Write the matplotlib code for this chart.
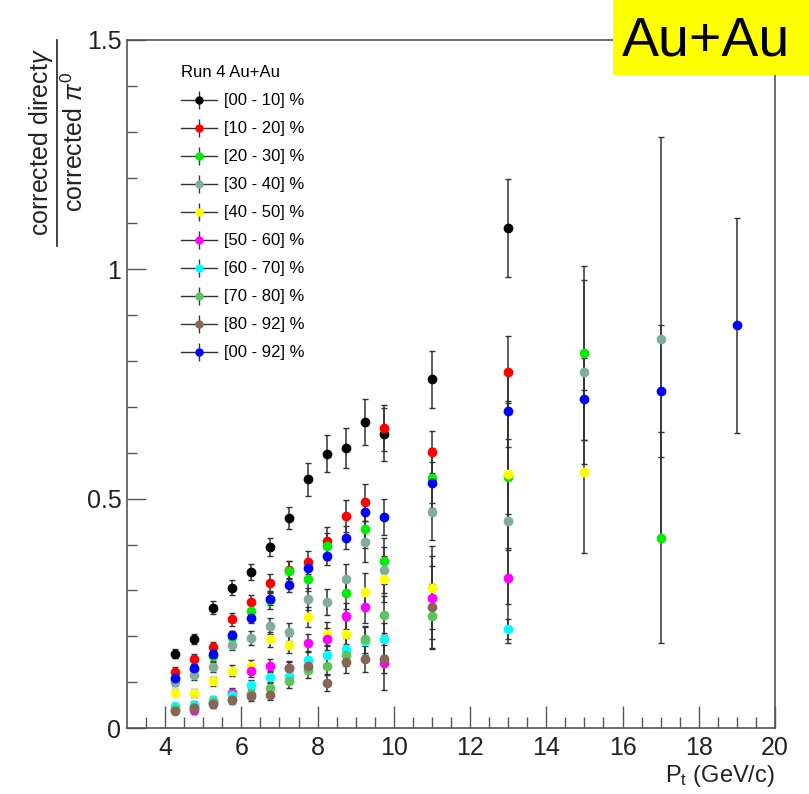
import numpy as np
import matplotlib
matplotlib.use("Agg")
import matplotlib.pyplot as plt
from matplotlib.lines import Line2D
from matplotlib.patches import Rectangle

plt.rcParams['font.family'] = ['Liberation Sans', 'DejaVu Sans']
plt.rcParams['mathtext.fontset'] = 'custom'
plt.rcParams['mathtext.rm'] = 'Liberation Sans'
plt.rcParams['mathtext.it'] = 'Liberation Sans:italic'

nan = np.nan

# pt bin centres (GeV/c)
pt = [4.25, 4.75, 5.25, 5.75, 6.25, 6.75, 7.25, 7.75, 8.25, 8.75, 9.25, 9.75, 11, 13, 15, 17, 19]

labels = ['[00 - 10] %', '[10 - 20] %', '[20 - 30] %', '[30 - 40] %', '[40 - 50] %',
          '[50 - 60] %', '[60 - 70] %', '[70 - 80] %', '[80 - 92] %', '[00 - 92] %']
colors = ['#000000', '#ff0000', '#00ee00', '#80ad9c', '#ffff00',
          '#ff00ff', '#00ffff', '#5cc45a', '#876657', '#0000ff']

c0010 = [0.162, 0.195, 0.262, 0.306, 0.340, 0.395, 0.457, 0.542, 0.598, 0.611, 0.667, 0.640, 0.760, 1.091]
c1020 = [0.122, 0.151, 0.176, 0.237, 0.274, 0.317, 0.345, 0.361, 0.408, 0.463, 0.492, 0.654, 0.601, 0.776]
c2030 = [0.105, 0.128, 0.158, 0.198, 0.255, 0.278, 0.342, 0.324, 0.396, 0.295, 0.433, 0.365, 0.545, 0.548, 0.818, 0.415]
c3040 = [0.100, 0.115, 0.133, 0.182, 0.197, 0.222, 0.209, 0.282, 0.274, 0.324, 0.406, 0.344, 0.470, 0.451, 0.776, 0.849]
c4050 = [0.077, 0.077, 0.102, 0.125, 0.135, 0.193, 0.182, 0.242, 0.205, 0.206, 0.297, 0.324, 0.306, 0.553, 0.559]
c5060 = [0.040, 0.039, 0.054, 0.077, 0.124, 0.136, 0.131, 0.186, 0.193, 0.244, 0.263, 0.142, 0.284, 0.326]
c6070 = [0.048, 0.050, 0.060, 0.072, 0.093, 0.112, 0.114, 0.149, 0.160, 0.172, 0.190, 0.194, nan, 0.215]
c7080 = [0.042, 0.046, 0.056, 0.064, 0.075, 0.088, 0.102, 0.126, 0.136, 0.160, 0.193, 0.247, 0.245]
c8092 = [0.037, 0.043, 0.052, 0.061, 0.069, 0.073, 0.131, 0.136, 0.099, 0.143, 0.151, 0.151, 0.263]
c0092 = [0.108, 0.131, 0.162, 0.202, 0.240, 0.281, 0.312, 0.349, 0.376, 0.415, 0.470, 0.460, 0.535, 0.692, 0.717, 0.734, 0.878]

e0010 = [0.010, 0.011, 0.014, 0.016, 0.018, 0.020, 0.024, 0.036, 0.040, 0.044, 0.050, 0.057, 0.063, 0.107]
e1020 = [0.010, 0.011, 0.012, 0.014, 0.016, 0.018, 0.020, 0.025, 0.030, 0.035, 0.040, 0.050, 0.046, 0.078]
e2030 = [0.010, 0.011, 0.012, 0.014, 0.016, 0.018, 0.022, 0.026, 0.030, 0.035, 0.040, 0.050, 0.065, 0.160, 0.190, 0.230]
e3040 = [0.009, 0.010, 0.011, 0.013, 0.015, 0.017, 0.020, 0.024, 0.028, 0.033, 0.045, 0.050, 0.060, 0.180, 0.200, 0.440]
e4050 = [0.008, 0.009, 0.010, 0.012, 0.014, 0.016, 0.018, 0.022, 0.026, 0.030, 0.040, 0.050, 0.090, 0.160, 0.177]
e5060 = [0.007, 0.008, 0.009, 0.010, 0.012, 0.014, 0.016, 0.020, 0.024, 0.028, 0.035, 0.060, 0.090, 0.140]
e6070 = [0.007, 0.008, 0.009, 0.010, 0.011, 0.013, 0.015, 0.018, 0.021, 0.025, 0.030, 0.035, nan, 0.022]
e7080 = [0.006, 0.007, 0.008, 0.009, 0.010, 0.012, 0.014, 0.017, 0.020, 0.024, 0.030, 0.040, 0.070]
e8092 = [0.006, 0.007, 0.008, 0.009, 0.010, 0.011, 0.013, 0.016, 0.019, 0.022, 0.028, 0.030, 0.090]
e0092 = [0.006, 0.007, 0.008, 0.010, 0.011, 0.013, 0.015, 0.018, 0.021, 0.025, 0.030, 0.040, 0.045, 0.080, 0.090, 0.144, 0.235]

values = [c0010, c1020, c2030, c3040, c4050, c5060, c6070, c7080, c8092, c0092]
errors = [e0010, e1020, e2030, e3040, e4050, e5060, e6070, e7080, e8092, e0092]

fig = plt.figure(figsize=(8.09, 7.94), dpi=100)
ax = fig.add_axes([127 / 809, 1 - 728 / 794, 648 / 809, 688 / 794])

frame_col = '#555555'
bar_col = '#333333'

handles = []
for vals, errs, col, lab in zip(values, errors, colors, labels):
    n = len(vals)
    ax.errorbar(pt[:n], vals, yerr=errs, fmt='o', ms=6, mfc=col, mec=col,
                ecolor=bar_col, elinewidth=1.1, capsize=2.5, capthick=1.0)
    cross = Line2D([], [], color=bar_col, lw=1.0, marker='|', ms=13, mew=1.0)
    dot = Line2D([], [], color=col, marker='o', ms=5, linestyle='none')
    handles.append((cross, dot))

ax.set_xlim(3, 20)
ax.set_ylim(0, 1.5)

ax.set_xticks([4, 6, 8, 10, 12, 14, 16, 18, 20])
ax.set_xticks(np.arange(3.5, 20, 0.5), minor=True)
ax.set_yticks([0, 0.5, 1, 1.5])
ax.set_yticklabels(['0', '0.5', '1', '1.5'])
ax.set_yticks(np.arange(0.1, 1.5, 0.1), minor=True)

ax.tick_params(axis='both', which='both', direction='in', colors=frame_col,
               labelcolor='#222222', labelsize=18)
ax.tick_params(axis='x', which='major', length=16, width=1.0, pad=6)
ax.tick_params(axis='x', which='minor', length=8, width=1.0)
ax.tick_params(axis='y', which='major', length=14, width=1.0, pad=4)
ax.tick_params(axis='y', which='minor', length=7, width=1.0)
for sp in ax.spines.values():
    sp.set_color(frame_col)
    sp.set_linewidth(1.2)

ax.set_xlabel(r'P$_{\rm t}$ (GeV/c)', fontsize=17, loc='right', color='#222222', labelpad=2)

leg = ax.legend(handles, labels, loc='upper left', bbox_to_anchor=(0.065, 0.98),
                frameon=False, fontsize=12, title='Run 4 Au+Au', title_fontsize=12,
                handlelength=2.2, handletextpad=0.4, labelspacing=0.78, borderpad=0.2)
leg._legend_box.align = 'left'

# y axis title as a fraction
fig.text(41 / 809, 1 - 142 / 794, r'corrected direct$\gamma$', rotation=90,
         ha='center', va='center', fontsize=18, color='#222222')
fig.text(75 / 809, 1 - 142 / 794, r'corrected $\pi^0$', rotation=90,
         ha='center', va='center', fontsize=18, color='#222222')
fig.add_artist(Line2D([57 / 809, 57 / 809], [1 - 40 / 794, 1 - 246 / 794],
                      transform=fig.transFigure, color='#222222', lw=1.2))

# Au+Au tag in the corner
fig.add_artist(Rectangle((613 / 809, 1 - 75 / 794), 196 / 809, 75 / 794,
                         transform=fig.transFigure, facecolor='#ffff00',
                         edgecolor='none', zorder=5))
fig.text(706 / 809, 1 - 42 / 794, 'Au+Au', ha='center', va='center',
         fontsize=40, color='black', zorder=6)

fig.savefig('out.png', dpi=100)
